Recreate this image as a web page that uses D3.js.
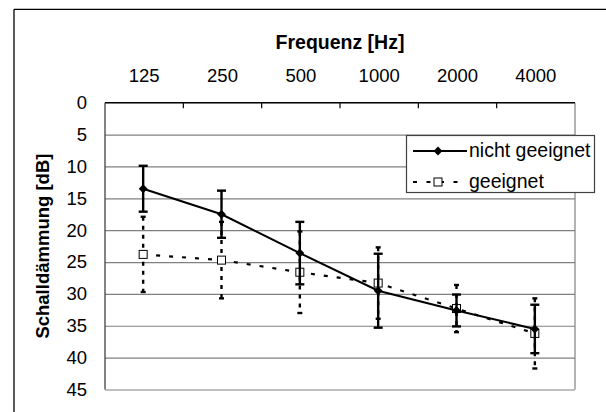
<!DOCTYPE html>
<html><head><meta charset="utf-8">
<script src="https://cdn.jsdelivr.net/npm/d3@7"></script>
<style>html,body{margin:0;background:#fff;overflow:hidden}svg{display:block;font-family:"Liberation Sans",Arial,sans-serif}</style>
</head><body><svg id="c" width="606" height="412"></svg>
<script>
const categories = ["125","250","500","1000","2000","4000"];
const yTicks = [0,5,10,15,20,25,30,35,40,45];
const nichtMean = [13.5, 17.5, 23.6, 29.5, 32.6, 35.5];
const nichtErr  = [3.6, 3.7, 4.9, 5.8, 2.5, 3.8];
const geeigMean = [23.8, 24.7, 26.6, 28.3, 32.3, 36.2];
const geeigErr  = [5.9, 6.0, 6.4, 5.6, 3.7, 5.5];
const seriesNames = ["nicht geeignet","geeignet"];

const FONT = "Liberation Sans, Arial, sans-serif";
const svg = d3.select("#c");
const L=105, R=575, T=102.7, B=389.5;
const x = d3.scaleBand().domain(categories).range([L,R]);
const y = d3.scaleLinear().domain([0,45]).range([T,B]);

// outer frame: only top and left edges are inside the picture
svg.append("line").attr("x1",14).attr("x2",606).attr("y1",9.3).attr("y2",9.3).attr("stroke","#000").attr("stroke-width",1.3);
svg.append("line").attr("x1",14).attr("x2",14).attr("y1",9.3).attr("y2",412).attr("stroke","#000").attr("stroke-width",1.3);

// gridlines + y axis
const ya = svg.append("g").attr("transform",`translate(${L},0)`)
  .call(d3.axisLeft(y).tickValues(yTicks).tickSize(-(R-L)).tickPadding(18));
ya.select(".domain").remove();
ya.selectAll(".tick line").attr("stroke","#808080").attr("stroke-width",1.2);
ya.selectAll(".tick text").attr("font-size",18.5).attr("fill","#000").attr("font-family",FONT);
// plot borders
svg.append("line").attr("x1",L).attr("x2",L).attr("y1",T).attr("y2",B).attr("stroke","#404040").attr("stroke-width",1.3);
svg.append("line").attr("x1",R).attr("x2",R).attr("y1",T).attr("y2",B).attr("stroke","#808080").attr("stroke-width",1.2);
svg.append("line").attr("x1",L).attr("x2",R).attr("y1",T).attr("y2",T).attr("stroke","#000").attr("stroke-width",1.3);

// x axis on top
const xa = svg.append("g").attr("transform",`translate(0,${T})`)
  .call(d3.axisTop(x).tickSize(0).tickPadding(20.5));
xa.select(".domain").remove();
xa.selectAll(".tick text").attr("font-size",18.5).attr("fill","#000").attr("font-family",FONT);
// category boundary ticks
const bounds = categories.slice(1).map(c=>x(c));
svg.append("g").selectAll("line").data(bounds).join("line")
  .attr("x1",d=>d).attr("x2",d=>d).attr("y1",T).attr("y2",T+5.5)
  .attr("stroke","#000").attr("stroke-width",1.2);

// titles
svg.append("text").attr("x",(L+R)/2).attr("y",48.5).attr("text-anchor","middle")
  .attr("font-size",19.5).attr("font-weight","bold").text("Frequenz [Hz]");
svg.append("text").attr("transform",`translate(49,${(T+B)/2}) rotate(-90)`).attr("text-anchor","middle")
  .attr("font-size",18.5).attr("font-weight","bold").text("Schalldämmung [dB]");

const cx = c => x(c)+x.bandwidth()/2 - 1;

function drawErr(means, errs, dashed){
  const g = svg.append("g").attr("stroke","#000").attr("stroke-width",2.4).attr("fill","none");
  categories.forEach((c,i)=>{
    const xc=cx(c), y1=y(means[i]-errs[i]), y2=y(means[i]+errs[i]);
    const v = g.append("line").attr("x1",xc).attr("x2",xc).attr("y1",y1).attr("y2",y2);
    const cw = dashed?2.5:4.5;
    g.append("line").attr("x1",xc-cw).attr("x2",xc+cw).attr("y1",y1).attr("y2",y1);
    g.append("line").attr("x1",xc-cw).attr("x2",xc+cw).attr("y1",y2).attr("y2",y2);
    if(dashed){ v.attr("stroke-dasharray","4,5"); }
  });
}
const line = d3.line().x((d,i)=>cx(categories[i])).y(d=>y(d));

// geeignet
drawErr(geeigMean, geeigErr, true);
svg.append("path").datum(geeigMean).attr("d",line).attr("fill","none")
  .attr("stroke","#000").attr("stroke-width",2.2).attr("stroke-dasharray","4,9");
svg.append("g").selectAll("rect").data(geeigMean).join("rect")
  .attr("x",(d,i)=>cx(categories[i])-4).attr("y",d=>y(d)-4).attr("width",8).attr("height",8)
  .attr("fill","#fff").attr("stroke","#000").attr("stroke-width",1);

// nicht geeignet
drawErr(nichtMean, nichtErr, false);
svg.append("path").datum(nichtMean).attr("d",line).attr("fill","none")
  .attr("stroke","#000").attr("stroke-width",2);
const diamond = d3.symbol().type(d3.symbolDiamond2).size(50);
svg.append("g").selectAll("path").data(nichtMean).join("path")
  .attr("d",diamond).attr("transform",(d,i)=>`translate(${cx(categories[i])},${y(d)})`)
  .attr("fill","#000");

// legend
const lg = svg.append("g");
lg.append("rect").attr("x",406.5).attr("y",135.5).attr("width",188).attr("height",57)
  .attr("fill","#fff").attr("stroke","#404040").attr("stroke-width",1.2);
const ly = [151, 182];
lg.append("line").attr("x1",413).attr("x2",467).attr("y1",ly[0]).attr("y2",ly[0]).attr("stroke","#000").attr("stroke-width",2);
lg.append("path").attr("d",diamond).attr("transform",`translate(438,${ly[0]})`).attr("fill","#000");
lg.append("line").attr("x1",413).attr("x2",467).attr("y1",ly[1]).attr("y2",ly[1]).attr("stroke","#000").attr("stroke-width",2.2).attr("stroke-dasharray","4,9.5");
lg.append("rect").attr("x",434).attr("y",ly[1]-4).attr("width",8).attr("height",8).attr("fill","#fff").attr("stroke","#000");
lg.selectAll("text").data(seriesNames).join("text")
  .attr("x",469).attr("y",(d,i)=>ly[i]+6).attr("font-size",19.5).text(d=>d);
</script></body></html>
